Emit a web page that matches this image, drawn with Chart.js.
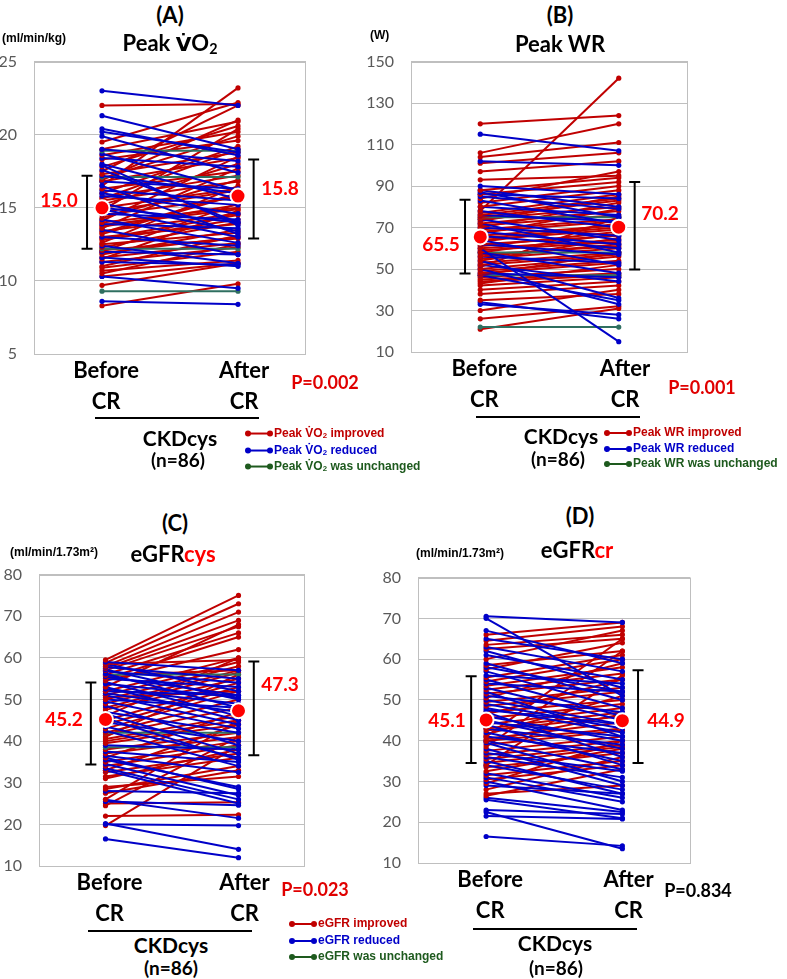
<!DOCTYPE html>
<html>
<head>
<meta charset="utf-8">
<script src="https://cdn.jsdelivr.net/npm/chart.js"></script>
<style>
body{margin:0;width:787px;height:979px;background:#fff;position:relative;overflow:hidden;font-family:Lato,sans-serif}
canvas{position:absolute}
.t{position:absolute;transform:translate(-50%,-50%);white-space:nowrap;font-weight:bold;color:#000}
.u{position:absolute;transform:translateY(-50%);white-space:nowrap;font:bold 12px "Liberation Sans",Arial,sans-serif;color:#000}
.ttl{font-size:22px}
.val{font-size:19px;color:#f00}
.p{font-size:18px;color:#e00000}
.grp{font-size:21px}
.n{font-size:19px}
.line{position:absolute;height:2px;background:#000}
.lg{position:absolute;transform:translateY(-50%);white-space:nowrap;font:bold 12px "Liberation Sans",Arial,sans-serif}
.mk{display:inline-block;position:relative;width:22px;height:2px;vertical-align:middle;margin:0 4px 0 2px}
.mk:before,.mk:after{content:"";position:absolute;top:-2px;width:6px;height:6px;border-radius:50%;background:inherit}
.mk:before{left:-3px}.mk:after{right:-3px}
.vd{font-family:"DejaVu Sans",sans-serif;font-size:92%}
sub{font-size:65%;vertical-align:-0.25em}
</style>
</head>
<body>
<canvas id="chartA" width="320" height="395" style="left:0;top:35px"></canvas>
<canvas id="chartB" width="340" height="395" style="left:360px;top:35px"></canvas>
<canvas id="chartC" width="320" height="382" style="left:0;top:548px"></canvas>
<canvas id="chartD" width="320" height="379" style="left:380px;top:551px"></canvas>

<!-- (A) -->
<div class="t ttl" style="left:170px;top:14px">(A)</div>
<div class="t ttl" style="left:170px;top:43px">Peak <span class="vd">V̇</span>O<sub>2</sub></div>
<div class="u" style="left:2px;top:38px">(ml/min/kg)</div>
<div class="t val" style="left:59px;top:199px">15.0</div>
<div class="t val" style="left:280px;top:187px">15.8</div>
<div class="t p" style="left:325px;top:382px">P=0.002</div>
<div class="line" style="left:95px;top:417px;width:164px"></div>
<div class="t grp" style="left:180px;top:437px">CKDcys</div>
<div class="t n" style="left:178px;top:459px">(n=86)</div>
<div class="lg" style="left:246px;top:433px;color:#c00000"><span class="mk" style="background:#c00000"></span>Peak V̇O<sub>2</sub> improved</div>
<div class="lg" style="left:246px;top:450px;color:#0000c8"><span class="mk" style="background:#0000c8"></span>Peak V̇O<sub>2</sub> reduced</div>
<div class="lg" style="left:246px;top:466px;color:#1e5a1e"><span class="mk" style="background:#1e5a1e"></span>Peak V̇O<sub>2</sub> was unchanged</div>

<!-- (B) -->
<div class="t ttl" style="left:560px;top:14px">(B)</div>
<div class="t ttl" style="left:560px;top:43px">Peak WR</div>
<div class="u" style="left:370px;top:35px">(W)</div>
<div class="t val" style="left:441px;top:243px">65.5</div>
<div class="t val" style="left:660px;top:212px">70.2</div>
<div class="t p" style="left:702px;top:387px">P=0.001</div>
<div class="line" style="left:476px;top:416px;width:164px"></div>
<div class="t grp" style="left:561px;top:435px">CKDcys</div>
<div class="t n" style="left:558px;top:458px">(n=86)</div>
<div class="lg" style="left:605px;top:432px;color:#c00000"><span class="mk" style="background:#c00000"></span>Peak WR improved</div>
<div class="lg" style="left:605px;top:448px;color:#0000c8"><span class="mk" style="background:#0000c8"></span>Peak WR reduced</div>
<div class="lg" style="left:605px;top:463px;color:#1e5a1e"><span class="mk" style="background:#1e5a1e"></span>Peak WR was unchanged</div>

<!-- (C) -->
<div class="t ttl" style="left:175px;top:522px">(C)</div>
<div class="t ttl" style="left:173px;top:553px">eGFR<span style="color:#f00">cys</span></div>
<div class="u" style="left:10px;top:552px">(ml/min/1.73m²)</div>
<div class="t val" style="left:64px;top:718px">45.2</div>
<div class="t val" style="left:280px;top:683px">47.3</div>
<div class="t p" style="left:315px;top:889px">P=0.023</div>
<div class="line" style="left:88px;top:930px;width:164px"></div>
<div class="t grp" style="left:171px;top:944px">CKDcys</div>
<div class="t n" style="left:171px;top:967px">(n=86)</div>
<div class="lg" style="left:290px;top:923px;color:#c00000"><span class="mk" style="background:#c00000"></span>eGFR improved</div>
<div class="lg" style="left:290px;top:940px;color:#0000c8"><span class="mk" style="background:#0000c8"></span>eGFR reduced</div>
<div class="lg" style="left:290px;top:956px;color:#1e5a1e"><span class="mk" style="background:#1e5a1e"></span>eGFR was unchanged</div>

<!-- (D) -->
<div class="t ttl" style="left:580px;top:515px">(D)</div>
<div class="t ttl" style="left:577px;top:549px">eGFR<span style="color:#f00">cr</span></div>
<div class="u" style="left:416px;top:553px">(ml/min/1.73m²)</div>
<div class="t val" style="left:447px;top:719px">45.1</div>
<div class="t val" style="left:666px;top:719px">44.9</div>
<div class="t p" style="left:698px;top:890px;color:#000">P=0.834</div>
<div class="line" style="left:473px;top:928px;width:164px"></div>
<div class="t grp" style="left:555px;top:942px">CKDcys</div>
<div class="t n" style="left:556px;top:967px">(n=86)</div>

<script>
// x positions of the two measurements and of the SD bars (linear axis 0..4)
const tickLabels = [['Before', 'CR'], ['After', 'CR']];
const xPos = [1, 3];
const xTicks = [1.06, 3.09];
const xBar = [0.78, 3.23];

// (A) Peak VO2, ml/min/kg
const aBefore = [23.0,21.3,20.4,20.2,19.9,19.0,18.7,18.4,18.0,17.6,17.2,16.8,16.5,16.2,16.0,15.8,15.3,14.6,14.2,13.9,13.5,13.0,12.4,12.0,11.6,11.3,10.3,8.6,14.9,17.9,15.0,
  22.0,19.5,19.0,18.6,18.3,17.8,17.5,17.3,17.0,16.8,16.5,16.3,16.0,15.7,15.5,15.2,15.0,14.8,14.5,14.3,14.0,13.8,13.6,13.4,13.2,13.0,12.8,12.6,12.5,12.3,12.1,12.0,11.8,11.6,11.5,11.3,11.0,10.9,10.7,10.5,10.3,9.7,8.3,14.1,15.6,16.9,13.3,12.9,11.9,14.7,13.7,
  18.9,17.1,12.2,9.3];
const aAfter = [22.0,19.0,18.6,18.8,17.4,18.2,16.2,17.8,15.6,14.0,16.0,16.3,13.2,15.5,14.6,15.2,13.4,14.2,12.6,13.6,11.8,12.4,11.2,11.8,11.0,11.1,9.5,8.4,13.0,13.8,14.0,
  22.1,22.2,20.9,20.2,19.6,20.6,22.0,18.8,19.9,18.4,23.2,17.5,19.2,17.2,16.8,18.0,16.3,20.4,15.7,16.9,15.0,14.9,17.7,14.6,15.9,13.9,14.2,16.5,13.3,14.0,12.9,15.3,13.5,12.6,14.8,12.3,13.1,12.0,11.4,12.5,11.2,11.2,9.8,18.5,19.0,21.0,16.0,14.5,13.0,16.2,15.2,
  18.9,17.1,12.2,9.3];
const aMean = [15.0, 15.8];
const aLow = [12.2, 12.9];
const aHigh = [17.2, 18.3];

// (B) Peak WR, W
const bBefore = [120,106,104,101,97,93,88,86,84,82,80,78,77,76,75,74,73,72,71,70,69,68,67,66,65,64,63,62,61,60,59,58,57,56,55,54,53,52,51,50,49,48,47,46,45,44,43,42,40,38,35,26,21,30,
  115,102,90,88,87,86,85,83,80,78,76,74,72,70,68,66,64,62,60,58,56,54,52,50,47,34,33,48,
  75,47,22,58];
const bAfter = [124,120,111,106,102,95,94,92,97,90,88,142,86,84,83,80,85,78,76,82,74,73,79,71,70,69,72,66,68,64,63,67,61,62,60,65,58,57,75,56,54,53,58,50,48,47,52,46,44,42,38,32,31,40,
  107,100,86,80,75,84,79,72,76,70,73,64,58,66,62,60,52,57,15,48,53,36,44,33,35,26,28,46,
  75,47,22,58];
const bMean = [65.5, 70.2];
const bLow = [47.9, 49.8];
const bHigh = [83.4, 92.0];

// (C) eGFRcys, ml/min/1.73m2
const cBefore = [59.5,58.8,58,57.5,57,56,55,54.5,53,52,51,50,49,48,47.5,46,45,44,43,42,41.5,41,40.5,40,39.5,38,37,36,35,34,33,32.5,31.5,31,29,28.5,25,24.5,22,19.7,26,27.5,55.8,58.5,50.5,
  59,58.5,57.8,57.2,56.8,56.2,55.5,55,54.2,53.8,53,52.5,52,51.5,51,50,49.5,48.5,47,46.5,45.5,44.5,43.5,42.5,37.5,36.5,36,35.5,34.5,33.5,33,28,25.9,25.5,20,20.2,16.5,39,
  56,42,38.5];
const cAfter = [75,73,71,69,67.5,66,65,62,68,60,59,58,57,56.5,55,60,54,53,52,50,48,56,46,45,44,42,41,47,40,39,44,37,36,38,31.5,34,25.3,41,22.3,39,45,33,57,59.5,52,
  57,52,55,50,54,48,51,53,46,50.5,45,49,51,47,44,48,43,39,42,37,35.5,40,36,34,35,32.5,28.5,29,27,26,25,27.5,21.5,24.6,19.7,14,12,38,
  56,42,38.5];
const cMean = [45.2, 47.3];
const cLow = [34.4, 36.6];
const cHigh = [54.1, 59.1];

// (D) eGFRcr, ml/min/1.73m2
const dBefore = [66,64.5,63.5,62.5,60,58.5,57.5,55.5,54.5,53.5,52.5,51.5,50.5,49.5,48.5,47,46.5,45.5,44,43,42.5,41.5,40.5,40,39,38.5,37.5,36.5,35.5,34.5,33.5,32.5,31.5,30.5,29.5,28,27,26.5,34,41,39.8,
  70.5,70,67,65,63,61,59,58,57,56,55,54,53,52,51,50,49,48,47,46,45,44,43,42,41,40,39.5,38,36,35,34,32,31,30,29,26,25.5,23,21.5,22.5,16.5,44.5,47.5,62,37];
const dAfter = [69,68,66,65,67,62,64,61,60,58,56.5,55,59,53,52,50,55,49,48,47,46,51,44.5,43,42.5,62,41,40,39,38.5,37,38,35,34,40,36,29,33,56,65,46.5,
  69,51,59,60,57,55,50,52,48,54,46,52,45,41,47,44,43,42,36,40,38,34,39,35,37,33,30,29,31,27,28,26,25,23,27,22.5,21,22,20.8,13.5,14.2,41,44,53,32.5];
const dMean = [45.1, 44.9];
const dLow = [34.5, 34.5];
const dHigh = [55.8, 57.3];

const RED = '#c00000', BLUE = '#0000c8', GREEN = '#2f6f60';

const framePlugin = {
  id: 'frame',
  beforeDatasetsDraw(chart) {
    const a = chart.chartArea, ctx = chart.ctx;
    ctx.save();
    ctx.strokeStyle = '#bfbfbf';
    ctx.lineWidth = 1;
    ctx.strokeRect(Math.round(a.left) + 0.5, Math.round(a.top) + 0.5, Math.round(a.width) - 1, Math.round(a.height));
    ctx.restore();
  }
};

function makePanel(id, before, after, mean, low, high, yMin, yMax, step, yWidth, xHeight, pad) {
  let sets = [];
  // mean points and SD bars drawn on top
  sets.push({
    data: [{x: xPos[0], y: mean[0]}, {x: xPos[1], y: mean[1]}],
    showLine: false, pointRadius: 7.5, pointBackgroundColor: '#ff0000',
    pointBorderColor: '#fff', pointBorderWidth: 2, order: -2
  });
  for (let k = 0; k < 2; k++) {
    sets.push({
      data: [{x: xBar[k], y: low[k]}, {x: xBar[k], y: high[k]}],
      borderColor: '#000', borderWidth: 2, pointStyle: 'line', pointRadius: 5.5,
      pointBorderColor: '#000', pointBorderWidth: 2, order: -1
    });
  }
  let idx = before.map((v, i) => i).sort((p, q) => before[q] - before[p]);
  idx.forEach(i => {
    let col = after[i] > before[i] ? RED : (after[i] < before[i] ? BLUE : GREEN);
    sets.push({
      data: [{x: xPos[0], y: before[i]}, {x: xPos[1], y: after[i]}],
      borderColor: col, backgroundColor: col, borderWidth: 2,
      pointRadius: 2.6, pointBorderWidth: 0, pointBackgroundColor: col
    });
  });

  new Chart(id, {
    type: 'line',
    data: {datasets: sets},
    plugins: [framePlugin],
    options: {
      responsive: false,
      animation: false,
      layout: {padding: pad},
      plugins: {legend: {display: false}, tooltip: {enabled: false}},
      scales: {
        x: {
          type: 'linear', min: 0, max: 4,
          afterBuildTicks(s) { s.ticks = xTicks.map(v => ({value: v})); },
          afterFit(s) { s.height = xHeight; },
          ticks: {
            callback: v => v < 2 ? tickLabels[0] : tickLabels[1],
            color: '#000', padding: 2, maxRotation: 0, autoSkip: false,
            font: {family: 'Lato', size: 22, weight: 'bold', lineHeight: 1.4}
          },
          grid: {display: false, drawTicks: false},
          border: {display: false}
        },
        y: {
          min: yMin, max: yMax,
          afterFit(s) { s.width = yWidth; },
          ticks: {stepSize: step, color: '#595959', padding: 17, font: {family: 'Lato', size: 16}},
          grid: {color: '#bfbfbf', drawTicks: false},
          border: {display: false}
        }
      }
    }
  });
}

makePanel('chartA', aBefore, aAfter, aMean, aLow, aHigh, 5, 25, 5, 34, 76, {top: 0, right: 14});
makePanel('chartB', bBefore, bAfter, bMean, bLow, bHigh, 10, 150, 20, 51, 78, {top: 0, right: 12});
makePanel('chartC', cBefore, cAfter, cMean, cLow, cHigh, 10, 80, 10, 39, 64, {top: 0, right: 15});
makePanel('chartD', dBefore, dAfter, dMean, dLow, dHigh, 10, 80, 10, 38, 67, {top: 0, right: 7});
</script>
</body>
</html>
